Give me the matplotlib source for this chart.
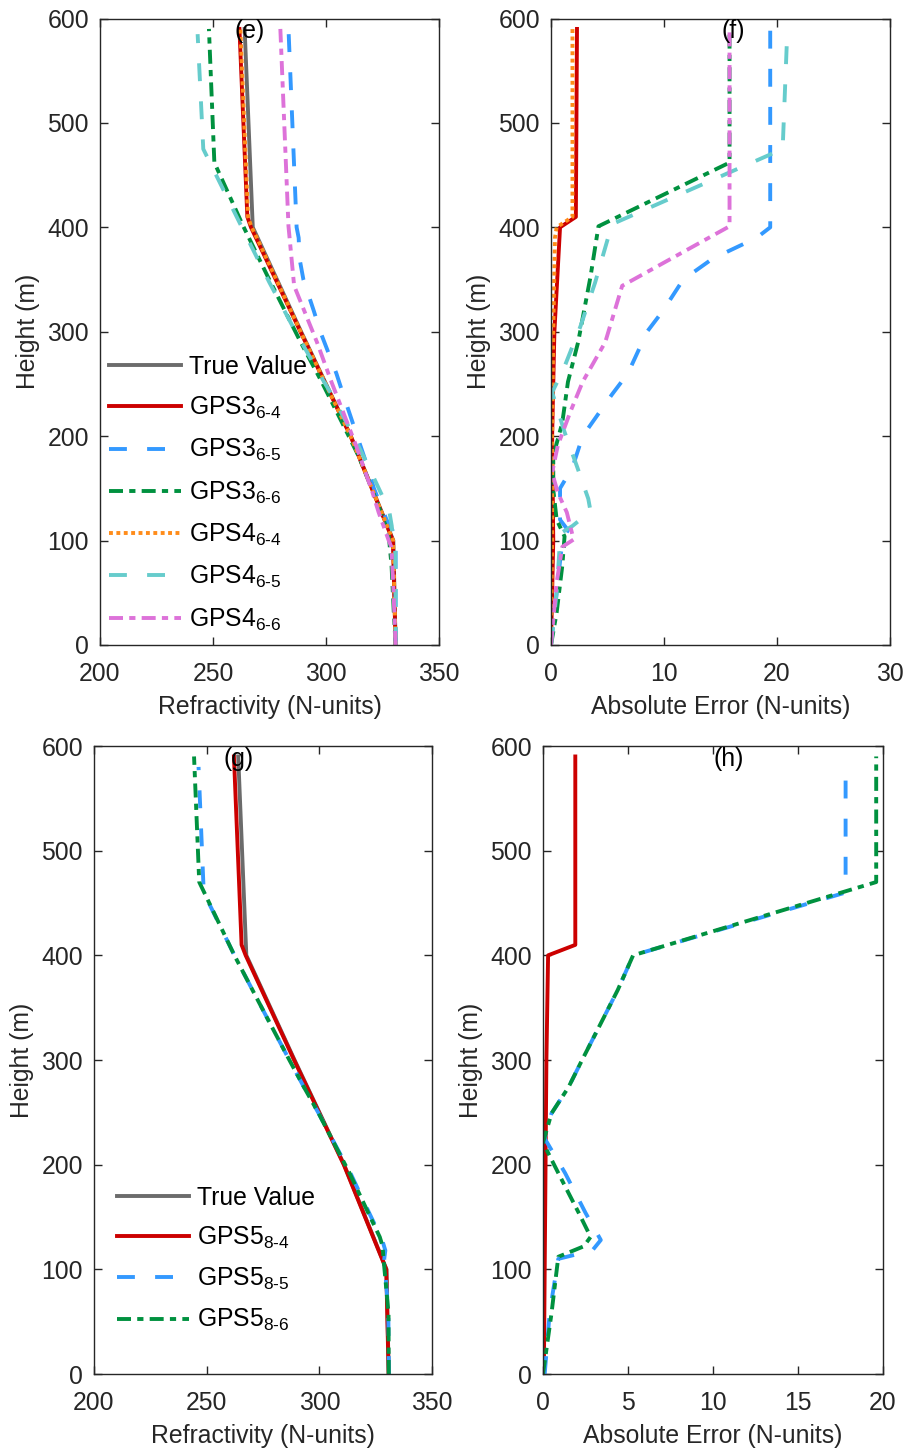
import matplotlib
matplotlib.use("Agg")
import matplotlib.pyplot as plt

plt.rcParams['font.family'] = ['Liberation Sans', 'DejaVu Sans']
plt.rcParams['mathtext.fontset'] = 'custom'
plt.rcParams['mathtext.rm'] = 'Liberation Sans'
plt.rcParams['mathtext.it'] = 'Liberation Sans'

# ---------------- data: panels (e)/(f) ----------------
H_TRUE = [0, 100, 200, 300, 400, 590]
N_TRUE = [330.8, 329.8, 311.0, 289.0, 267.6, 264.0]

H_364 = [0, 100, 200, 300, 400, 410, 590]
N_364 = [330.8, 329.6, 310.9, 288.7, 266.8, 265.2, 261.7]
E_364 = [0.0, 0.2, 0.1, 0.3, 0.8, 2.2, 2.3]

H_365 = [0, 50, 100, 110, 120, 150, 170, 200, 240, 260, 300, 320, 350, 370, 390, 400, 590]
N_365 = [330.8, 330.8, 330.8, 329.4, 326.8, 321.2, 318.5, 313.8, 307.6, 304.6, 297.5, 294.6,
         290.0, 288.3, 287.9, 287.0, 283.4]
E_365 = [0.0, 0.5, 1.0, 1.5, 0.8, 0.8, 1.9, 2.8, 5.4, 6.8, 8.5, 9.9, 11.7, 14.3, 18.2, 19.4, 19.4]

H_366 = [0, 31, 76, 104, 120, 149, 181, 213, 252, 290, 353, 401, 462, 590]
N_366 = [330.8, 330.0, 329.0, 327.8, 325.5, 320.4, 314.4, 307.1, 298.1, 288.8, 274.2, 263.4, 250.6, 248.2]
E_366 = [0.0, 0.5, 1.0, 1.2, 0.5, 0.2, 0.2, 1.0, 1.5, 2.4, 3.5, 4.2, 15.8, 15.8]

H_464 = [0, 100, 200, 300, 390, 400, 410, 590]
N_464 = [330.8, 329.7, 310.9, 288.8, 269.4, 267.1, 265.5, 262.1]
E_464 = [0.0, 0.1, 0.1, 0.2, 0.35, 0.5, 1.9, 1.9]

H_465 = [0, 50, 100, 108, 114, 128, 140, 171, 204, 242, 264, 305, 347, 403, 475, 585]
N_465 = [330.8, 330.8, 330.6, 329.3, 329.1, 328.0, 325.5, 318.8, 311.3, 301.9, 295.9, 285.3,
         275.0, 262.1, 245.7, 243.2]
E_465 = [0.0, 0.5, 0.8, 1.0, 1.9, 3.5, 3.3, 2.3, 1.2, 0.1, 1.1, 2.6, 3.9, 5.4, 20.5, 20.9]

H_466 = [0, 60, 94, 101, 127, 146, 165, 191, 223, 252, 290, 344, 401, 590]
N_466 = [330.8, 329.7, 328.9, 327.6, 323.3, 320.6, 317.5, 313.3, 307.6, 302.4, 296.0, 285.9, 283.4, 279.8]
E_466 = [0.0, 0.5, 1.0, 2.0, 1.4, 0.6, 0.1, 0.6, 1.7, 2.8, 4.8, 6.3, 15.8, 15.8]

# ---------------- data: panels (g)/(h) ----------------
H_584 = [0, 100, 200, 300, 400, 410, 590]
N_584 = [330.75, 329.7, 310.85, 288.8, 267.3, 265.5, 262.1]
E_584 = [0.05, 0.1, 0.15, 0.2, 0.3, 1.9, 1.9]

H_585 = [0, 60, 110, 118, 128, 154, 192, 225, 249, 274, 300, 335, 367, 400, 460, 580]
N_585 = [330.9, 330.6, 328.8, 329.3, 327.9, 322.1, 313.8, 305.6, 299.7, 293.2, 286.7, 278.1,
         270.3, 262.3, 248.7, 246.4]
E_585 = [0.1, 0.4, 0.9, 2.9, 3.4, 2.5, 1.3, 0.1, 0.5, 1.5, 2.3, 3.4, 4.4, 5.3, 17.8, 17.8]

H_586 = [0, 58, 112, 122, 131, 154, 192, 221, 249, 274, 300, 335, 367, 400, 470, 590]
N_586 = [330.8, 330.7, 328.4, 328.1, 326.8, 321.7, 313.4, 306.4, 299.7, 293.2, 286.7, 278.1,
         270.3, 262.3, 246.7, 244.4]
E_586 = [0.0, 0.5, 0.9, 2.4, 2.8, 2.1, 0.9, 0.0, 0.5, 1.5, 2.3, 3.4, 4.4, 5.3, 19.6, 19.6]

Y_TICKS = [0, 100, 200, 300, 400, 500, 600]
XT_E = [200, 250, 300, 350]
XT_F = [0, 10, 20, 30]
XT_H = [0, 5, 10, 15, 20]

LAB_TRUE = 'True Value'
LAB_TOP = [r'GPS3$_{\mathregular{6‐4}}$', r'GPS3$_{\mathregular{6‐5}}$', r'GPS3$_{\mathregular{6‐6}}$',
           r'GPS4$_{\mathregular{6‐4}}$', r'GPS4$_{\mathregular{6‐5}}$', r'GPS4$_{\mathregular{6‐6}}$']
LAB_BOT = [r'GPS5$_{\mathregular{8‐4}}$', r'GPS5$_{\mathregular{8‐5}}$', r'GPS5$_{\mathregular{8‐6}}$']

# ---------------- styles ----------------
LW = 2.8
C_TRUE = '#6b6b6b'
C_RED = '#cc0000'
C_BLUE = '#3399ff'
C_GREEN = '#00913f'
C_ORANGE = '#ff8c1a'
C_CYAN = '#66cccc'
C_MAG = '#dd72d9'
DASH = (0, (4.6, 5.2))
DASHDOT = (0, (3.6, 1.6, 1.6, 1.6))
DOT = (0, (1.0, 0.9))

FS = 17.8
AX_COL = '#262626'

W, H = 905, 1449
fig = plt.figure(figsize=(W / 100, H / 100), dpi=100)

def frac(l, r, t, b):
    return [l / W, 1 - b / H, (r - l) / W, (b - t) / H]

ax_e = fig.add_axes(frac(100, 439, 18.5, 645))
ax_f = fig.add_axes(frac(551, 890, 18.5, 645))
ax_g = fig.add_axes(frac(94, 432, 746, 1374))
ax_h = fig.add_axes(frac(543, 883, 746, 1374))

def style(ax, xlim, xticks, xlabel):
    ax.set_xlim(*xlim)
    ax.set_ylim(0, 600)
    ax.set_xticks(xticks)
    ax.set_yticks(Y_TICKS)
    ax.tick_params(direction='in', length=6, width=1.0, top=True, right=True,
                   labelsize=FS, colors=AX_COL, labelcolor='#262626')
    ax.tick_params(axis='y', pad=8)
    ax.tick_params(axis='x', pad=12)
    for s in ax.spines.values():
        s.set_color(AX_COL)
        s.set_linewidth(1.0)
    ax.set_xlabel(xlabel, fontsize=FS, color='#262626', labelpad=7)
    ax.set_ylabel('Height (m)', fontsize=FS, color='#262626', labelpad=5)

LEG_KW = dict(frameon=False, fontsize=FS, handlelength=2.92, handletextpad=0.33,
              borderpad=0.0, borderaxespad=0.0)

# (e)
ax = ax_e
ax.plot(N_TRUE, H_TRUE, color=C_TRUE, lw=LW, label=LAB_TRUE)
ax.plot(N_364, H_364, color=C_RED, lw=LW, label=LAB_TOP[0])
ax.plot(N_365, H_365, color=C_BLUE, lw=LW, ls=DASH, label=LAB_TOP[1])
ax.plot(N_366, H_366, color=C_GREEN, lw=LW, ls=DASHDOT, label=LAB_TOP[2])
ax.plot(N_464, H_464, color=C_ORANGE, lw=LW, ls=DOT, label=LAB_TOP[3])
ax.plot(N_465, H_465, color=C_CYAN, lw=LW, ls=DASH, label=LAB_TOP[4])
ax.plot(N_466, H_466, color=C_MAG, lw=LW, ls=DASHDOT, label=LAB_TOP[5])
style(ax, (200, 350), XT_E, 'Refractivity (N-units)')
ax.text(266, 588, '(e)', fontsize=FS, ha='center', va='center')
ax.legend(loc='upper left', bbox_to_anchor=(9 / 339, 0.463), labelspacing=0.65, **LEG_KW)

# (f)
ax = ax_f
ax.plot(E_364, H_364, color=C_RED, lw=LW)
ax.plot(E_365, H_365, color=C_BLUE, lw=LW, ls=DASH)
ax.plot(E_366, H_366, color=C_GREEN, lw=LW, ls=DASHDOT)
ax.plot(E_464, H_464, color=C_ORANGE, lw=LW, ls=DOT)
ax.plot(E_465, H_465, color=C_CYAN, lw=LW, ls=DASH)
ax.plot(E_466, H_466, color=C_MAG, lw=LW, ls=DASHDOT)
style(ax, (0, 30), XT_F, 'Absolute Error (N-units)')
ax.text(16.1, 588, '(f)', fontsize=FS, ha='center', va='center')

# (g)
ax = ax_g
ax.plot(N_TRUE, H_TRUE, color=C_TRUE, lw=LW, label=LAB_TRUE)
ax.plot(N_584, H_584, color=C_RED, lw=LW, label=LAB_BOT[0])
ax.plot(N_585, H_585, color=C_BLUE, lw=LW, ls=DASH, label=LAB_BOT[1])
ax.plot(N_586, H_586, color=C_GREEN, lw=LW, ls=DASHDOT, label=LAB_BOT[2])
style(ax, (200, 350), XT_E, 'Refractivity (N-units)')
ax.text(264, 588, '(g)', fontsize=FS, ha='center', va='center')
ax.legend(loc='upper left', bbox_to_anchor=(23 / 338, 0.300), labelspacing=0.61, **LEG_KW)

# (h)
ax = ax_h
ax.plot(E_584, H_584, color=C_RED, lw=LW)
ax.plot(E_585, H_585, color=C_BLUE, lw=LW, ls=DASH)
ax.plot(E_586, H_586, color=C_GREEN, lw=LW, ls=DASHDOT)
style(ax, (0, 20), XT_H, 'Absolute Error (N-units)')
ax.text(10.9, 588, '(h)', fontsize=FS, ha='center', va='center')

fig.savefig('out.png', dpi=100)
